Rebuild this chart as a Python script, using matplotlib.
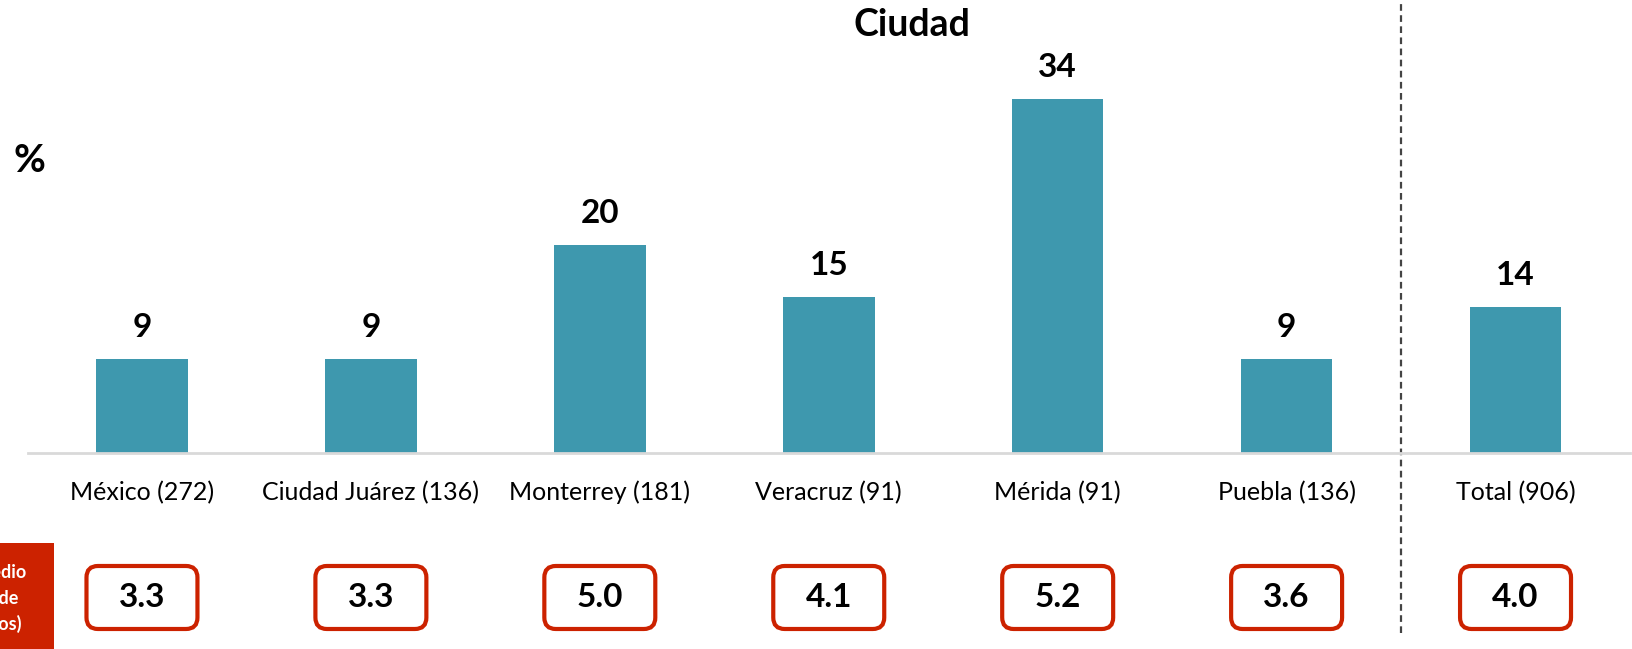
import matplotlib
matplotlib.use("Agg")
import matplotlib.pyplot as plt
from matplotlib.patches import FancyBboxPatch, Rectangle
from matplotlib.transforms import blended_transform_factory

plt.rcParams['font.family'] = ['Lato', 'DejaVu Sans']

# data
ciudades = ["México (272)", "Ciudad Juárez (136)", "Monterrey (181)", "Veracruz (91)",
            "Mérida (91)", "Puebla (136)", "Total (906)"]
porcentajes = [9, 9, 20, 15, 34, 9, 14]
promedios = ["3.3", "3.3", "5.0", "4.1", "5.2", "3.6", "4.0"]

azul = "#3E98AE"
rojo = "#CC2200"

W, H = 1633, 649
fig = plt.figure(figsize=(W / 100, H / 100), dpi=100)
# axes in pixel terms: baseline at y=453, x from 27.5 to 1630
ax = fig.add_axes([27.5 / W, (H - 453) / H, 1602.5 / W, 453 / H])

x = list(range(len(ciudades)))
ax.bar(x, porcentajes, width=0.4, color=azul)
ax.set_xlim(-0.5, 6.5)
ax.set_ylim(0, 453 / 10.41)

for s in ["top", "left", "right"]:
    ax.spines[s].set_visible(False)
ax.spines["bottom"].set_color("#d9d9d9")
ax.spines["bottom"].set_linewidth(2)
ax.set_yticks([])
ax.set_xticks([])

# value labels above bars
for xi, v in zip(x, porcentajes):
    ax.annotate(str(v), (xi, v), xytext=(0, 16), textcoords="offset points",
                ha="center", va="baseline", fontsize=24, fontweight="bold")

trans = blended_transform_factory(ax.transData, ax.transAxes)

# category names under the axis
for xi, c in zip(x, ciudades):
    ax.text(xi, -0.087, c, transform=trans, ha="center", va="center", fontsize=18)

# rounded boxes with averages
bw, bh = 111 / 229, 63 / 453
for xi, p in zip(x, promedios):
    box = FancyBboxPatch((xi - bw / 2, -0.3885), bw, bh,
                         boxstyle="round,pad=0,rounding_size=0.05",
                         mutation_aspect=229 / 453, transform=trans,
                         facecolor="white", edgecolor=rojo, linewidth=3,
                         clip_on=False)
    ax.add_patch(box)
    ax.text(xi, -0.318, p, transform=trans, ha="center", va="center",
            fontsize=24, fontweight="bold")

# dashed separator before Total
ax.plot([5.5, 5.5], [-(633 - 453) / 453, 1.0], transform=trans, color="#444444",
        linestyle=(0, (3, 2)), linewidth=1.6, clip_on=False)

fig.text(912 / W, 1 - 25 / H, "Ciudad", ha="center", va="center",
         fontsize=27, fontweight="bold")
fig.text(29 / W, 1 - 160 / H, "%", ha="center", va="center",
         fontsize=28, fontweight="bold")

# red label box on the left (cut by the figure edge, as in the original)
fig.patches.append(Rectangle((0, 0), 54 / W, (H - 543) / H, transform=fig.transFigure,
                             facecolor=rojo, edgecolor="none"))
for yy, xe, t in [(573, 27, "Promedio"), (598, 18, "número de"), (624, 22, "(hijos)")]:
    fig.text(xe / W, 1 - yy / H, t, ha="right", va="center", fontsize=13,
             fontweight="bold", color="white")

fig.savefig("out.png", dpi=100)
